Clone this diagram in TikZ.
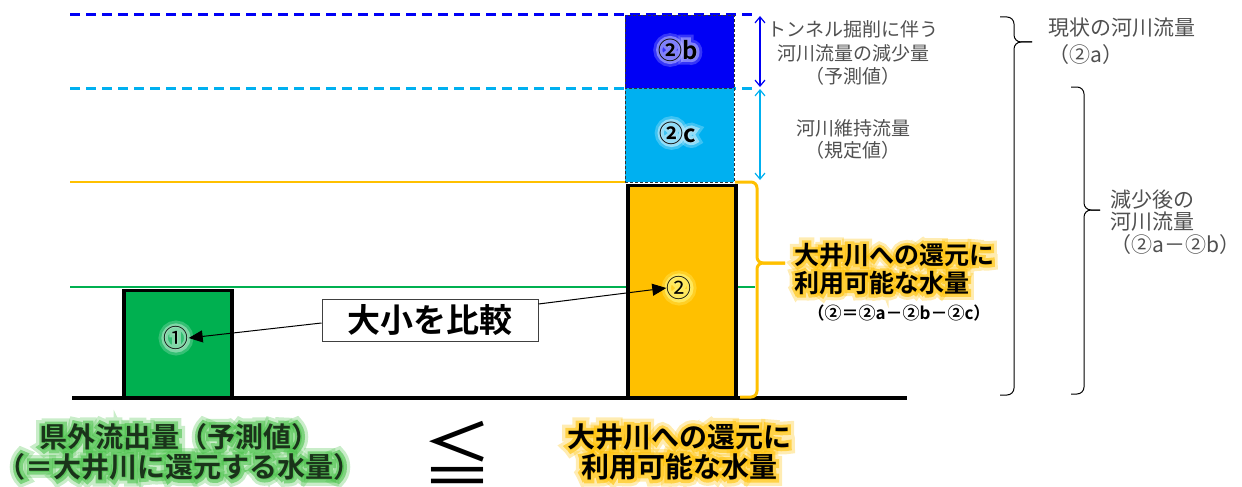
\documentclass[tikz,border=0pt]{standalone}
\usepackage{fontspec}
\setmainfont{Noto Sans CJK JP}[BoldFont=* Bold]
\newfontfamily\glowfontA{Noto Sans CJK JP}[UprightFont=* Bold, FakeBold=45]
\newfontfamily\glowfontB{Noto Sans CJK JP}[UprightFont=* Bold, FakeBold=22]
\usetikzlibrary{arrows.meta,calc}
\definecolor{cgreen}{HTML}{00B050}
\definecolor{corange}{HTML}{FFC000}
\definecolor{clblue}{HTML}{00B0F0}
\definecolor{cblue}{HTML}{0000F5}
\definecolor{cgray}{HTML}{505050}
\definecolor{cdkgreen}{HTML}{1A331A}
\definecolor{cglowgreen}{HTML}{4CC24C}
% #1 name, #2 position, #3 options, #4 font, #5 glow colour, #6 text
\newcommand\glowtext[6]{%
  \node[#3, font=#4\glowfontA, text=#5, opacity=.3] (#1ga) at #2 {#6};
  \node[#3, font=#4\glowfontB, text=#5, opacity=.6] (#1gb) at #2 {#6};
  \node[#3, font=#4] (#1) at #2 {#6};}
\tikzset{
  bar/.style={draw=black, line width=3.5pt},
  stackbox/.style={draw=black!80, line width=0.8pt, dash pattern=on 3pt off 2pt},
  note/.style={text=cgray, inner sep=0, align=center, font=\fontsize{19}{23.5}\selectfont},
  sidenote/.style={text=cgray, inner sep=0, align=left, font=\fontsize{21}{22.5}\selectfont},
  bignote/.style={inner sep=0, align=center},
  dimarrow/.style={line width=1.2pt, {Straight Barb[length=6pt,width=10pt]}-{Straight Barb[length=6pt,width=10pt]}},
  cmparrow/.style={line width=1pt, -{Triangle[length=14pt,width=12pt]}},
  brace/.style={draw=black, line width=1pt, rounded corners=7pt},
}
\begin{document}
\begin{tikzpicture}[x=1pt,y=-1pt]
\path[use as bounding box] (0,0) rectangle (1242,487);
% level lines
\coordinate (lb1) at (70,15); \coordinate (lb2) at (757,15);
\coordinate (lc1) at (70,88); \coordinate (lc2) at (757,88);
\coordinate (lo1) at (70,182); \coordinate (lo2) at (625,182);
\coordinate (lg1) at (70,287); \coordinate (lg2) at (755,287);
\coordinate (base1) at (72,398); \coordinate (base2) at (907,398);
\draw[cblue, line width=3pt, dash pattern=on 9.5pt off 6.5pt] (lb1) -- (lb2);
\draw[clblue, line width=3pt, dash pattern=on 9.5pt off 6.5pt] (lc1) -- (lc2);
\draw[corange, line width=2.5pt] (lo1) -- (lo2);
\draw[cgreen, line width=2pt] (lg1) -- (lg2);
% boxes
\node[stackbox, fill=cblue, minimum width=109pt, minimum height=73pt, inner sep=0, anchor=north west] (b2b) at (625,15) {};
\node[stackbox, fill=clblue, minimum width=109pt, minimum height=94pt, inner sep=0, anchor=north west] (b2c) at (625,88) {};
\node[bar, fill=corange, minimum width=108pt, minimum height=213pt, inner sep=0, anchor=north west] (b2) at (626,183.5) {};
\node[bar, fill=cgreen, minimum width=108pt, minimum height=108pt, inner sep=0, anchor=north west] (b1) at (122,288.5) {};
\draw[black, line width=3.5pt] (base1) -- (base2);
% labels in boxes
\glowtext{t2b}{(678,50)}{inner sep=0}{\bfseries\fontsize{24}{24}\selectfont}{blue!30!white}{②b}
\glowtext{t2c}{(678,133)}{inner sep=0}{\bfseries\fontsize{24}{24}\selectfont}{white!80!clblue}{②c}
\glowtext{n1}{(176,338)}{inner sep=0}{\fontsize{25}{25}\selectfont}{white!70!cgreen}{①}
\glowtext{n2}{(679,288)}{inner sep=0}{\fontsize{25}{25}\selectfont}{yellow!50!white}{②}
% compare box
\node[draw=black!75, line width=1pt, fill=white, minimum width=216pt, minimum height=42pt, inner sep=0,
      font=\bfseries\fontsize{33}{33}\selectfont] (cmp) at (430,320) {大小を比較};
\draw[cmparrow] (cmp.west |- 0,323) -- (n1.east);
\draw[cmparrow] (cmp.east |- 0,304) -- (n2.west);
% dimension arrows
\coordinate (d1) at (760,16); \coordinate (d2) at (760,87);
\coordinate (d3) at (760,89); \coordinate (d4) at (760,180);
\draw[dimarrow, cblue] (d1) -- (d2);
\draw[dimarrow, clblue] (d3) -- (d4);
\node[note] (nb) at (853,53) {トンネル掘削に伴う\\河川流量の減少量\\（予測値）};
\node[note, font=\fontsize{19}{22}\selectfont] (nc) at (853,139) {河川維持流量\\（規定値）};
% orange bracket
\draw[corange, line width=3pt, rounded corners=6pt] (735,182) -- (757,182) -- (757,263) -- (785,263);
\draw[corange, line width=3pt, rounded corners=6pt] (785,263) -- (757,263) -- (757,397) -- (740,397);
\glowtext{ol}{(794,269)}{anchor=west, inner sep=0, align=left}{\bfseries\fontsize{25}{28}\selectfont}{corange}{大井川への還元に\\利用可能な水量}
\node[inner sep=0, font=\bfseries\fontsize{17}{17}\selectfont] (formula) at (899,313) {（②＝②a－②b－②c）};
% braces
\draw[brace] (1000,17) -- (1014,17) -- (1014,42) -- (1032,42);
\draw[brace] (1032,42) -- (1014,42) -- (1014,395) -- (1000,395);
\draw[brace] (1071,87) -- (1084,87) -- (1084,210) -- (1100,210);
\draw[brace] (1100,210) -- (1084,210) -- (1084,394) -- (1071,394);
\node[sidenote, anchor=west, font=\fontsize{21}{27}\selectfont] (sa) at (1048,41.5) {現状の河川流量\\（②a）};
\node[sidenote, anchor=west] (sb) at (1110,222) {減少後の\\河川流量\\（②a－②b）};
% bottom
\glowtext{bl}{(180,452)}{bignote, text=cdkgreen}{\bfseries\fontsize{28}{30}\selectfont}{cglowgreen}{県外流出量（予測値）\\（＝大井川に還元する水量）}
\node[inner sep=0, font=\fontsize{70}{70}\selectfont] (le) at (457,452) {≦};
\glowtext{br}{(679,452)}{bignote}{\bfseries\fontsize{28}{30}\selectfont}{corange}{大井川への還元に\\利用可能な水量}
\end{tikzpicture}
\end{document}
